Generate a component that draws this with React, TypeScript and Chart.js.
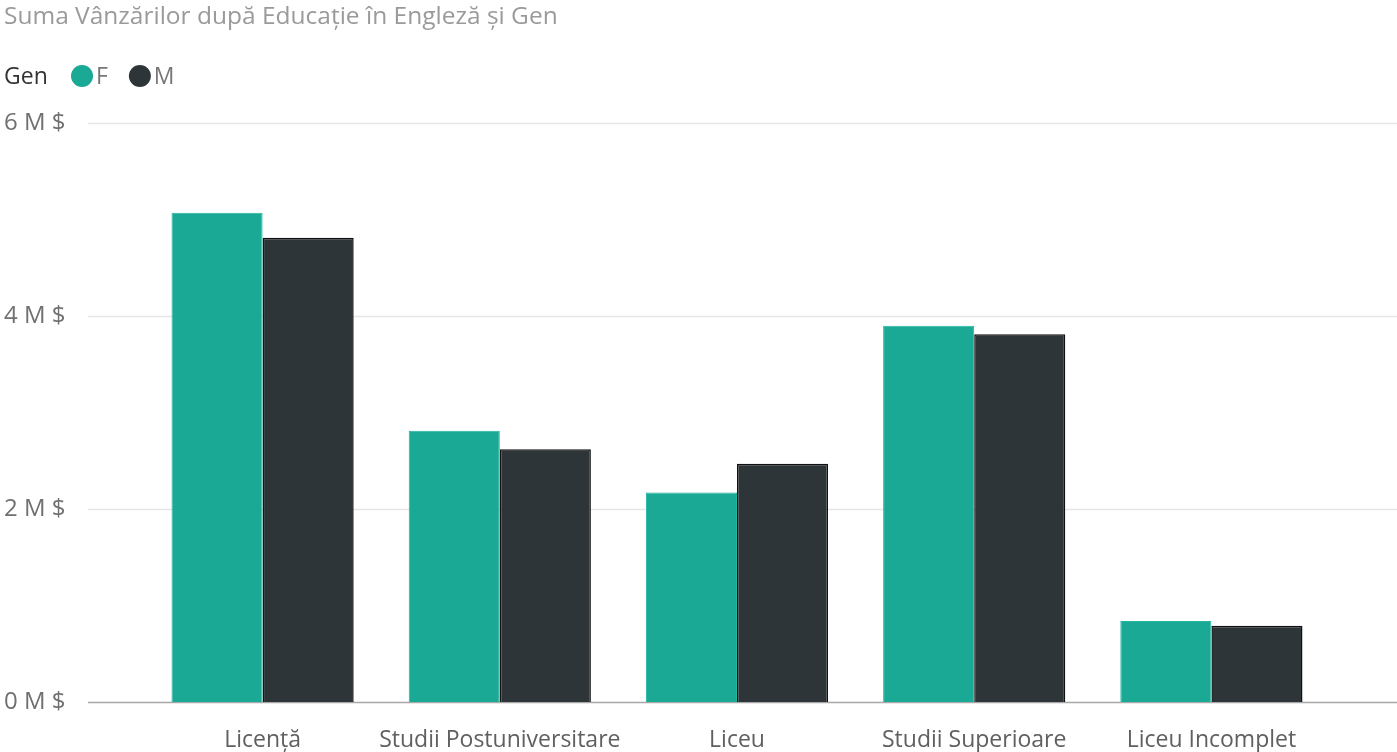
import { useEffect, useRef } from 'react';
import { Chart, registerables } from 'chart.js';
import type { Plugin } from 'chart.js';

Chart.register(...registerables);

const TITLE = 'Suma Vânzărilor după Educație în Engleză și Gen';
const LEGEND_TITLE = 'Gen';

const educationLevels = [
  'Licență',
  'Studii Postuniversitare',
  'Liceu',
  'Studii Superioare',
  'Liceu Incomplet',
];

// sales in millions of dollars
const femaleSales = [5.07, 2.81, 2.17, 3.9, 0.84];
const maleSales = [4.81, 2.62, 2.47, 3.81, 0.79];

const yTicks = [0, 2, 4, 6];

const FONT = '"Segoe UI", "Open Sans", "Noto Sans", sans-serif';
const TEAL = '#1aa995';
const DARK = '#2d3538';

// gridlines in Power BI run past the plot area on both sides
const gridPlugin: Plugin<'bar'> = {
  id: 'wideGrid',
  beforeDatasetsDraw(chart) {
    const { ctx, scales } = chart;
    const y = scales.y;
    ctx.save();
    yTicks.forEach((t) => {
      const py = Math.round(y.getPixelForValue(t)) + 0.5;
      ctx.beginPath();
      ctx.strokeStyle = t === 0 ? '#a8a8a8' : '#e6e6e6';
      ctx.lineWidth = 1.5;
      ctx.moveTo(88, py);
      ctx.lineTo(chart.width, py);
      ctx.stroke();
    });
    ctx.restore();
  },
};

const headerPlugin: Plugin<'bar'> = {
  id: 'header',
  afterDraw(chart) {
    const { ctx } = chart;
    ctx.save();
    ctx.textBaseline = 'middle';
    ctx.textAlign = 'left';

    ctx.font = `24.5px ${FONT}`;
    ctx.fillStyle = '#9a9a9a';
    ctx.fillText(TITLE, 4, 17);

    ctx.font = `23px ${FONT}`;
    ctx.fillStyle = '#333333';
    ctx.fillText(LEGEND_TITLE, 4, 77);

    let x = 70;
    chart.data.datasets.forEach((ds) => {
      ctx.beginPath();
      ctx.fillStyle = ds.backgroundColor as string;
      ctx.arc(x + 12, 76, 11, 0, Math.PI * 2);
      ctx.fill();
      ctx.fillStyle = '#777777';
      ctx.font = `23px ${FONT}`;
      ctx.fillText(ds.label ?? '', x + 26, 77);
      x += 26 + ctx.measureText(ds.label ?? '').width + 20;
    });
    ctx.restore();
  },
};

export default function App() {
  const canvasRef = useRef<HTMLCanvasElement | null>(null);

  useEffect(() => {
    document.body.style.margin = '0';
    if (!canvasRef.current) return;

    const chart = new Chart(canvasRef.current, {
      type: 'bar',
      data: {
        labels: educationLevels,
        datasets: [
          {
            label: 'F',
            data: femaleSales,
            backgroundColor: TEAL,
            borderColor: '#22b5a0',
            borderWidth: 1,
            barPercentage: 1,
            categoryPercentage: 0.768,
          },
          {
            label: 'M',
            data: maleSales,
            backgroundColor: DARK,
            borderColor: '#111111',
            borderWidth: 1.5,
            barPercentage: 1,
            categoryPercentage: 0.768,
          },
        ],
      },
      options: {
        animation: false,
        responsive: false,
        layout: {
          padding: { top: 123, left: 4, right: 67, bottom: 0 },
        },
        plugins: {
          legend: { display: false },
          title: { display: false },
          tooltip: { enabled: false },
        },
        scales: {
          x: {
            grid: { display: false, drawTicks: false },
            border: { display: false },
            ticks: {
              padding: 25,
              autoSkip: false,
              color: '#606060',
              font: { family: FONT, size: 23 },
              maxRotation: 0,
            },
            afterFit(scale) {
              scale.height = 50;
            },
          },
          y: {
            min: 0,
            max: 6,
            grid: { display: false, drawTicks: false },
            border: { display: false },
            afterBuildTicks(scale) {
              scale.ticks = yTicks.map((v) => ({ value: v }));
            },
            ticks: {
              crossAlign: 'far',
              color: '#707070',
              font: { family: FONT, size: 24 },
              callback: (v) => `${v} M $`,
            },
            afterFit(scale) {
              scale.width = 140;
            },
          },
        },
      },
      plugins: [gridPlugin, headerPlugin],
    });

    return () => {
      chart.destroy();
    };
  }, []);

  return <canvas ref={canvasRef} width={1397} height={752} style={{ display: 'block' }} />;
}
